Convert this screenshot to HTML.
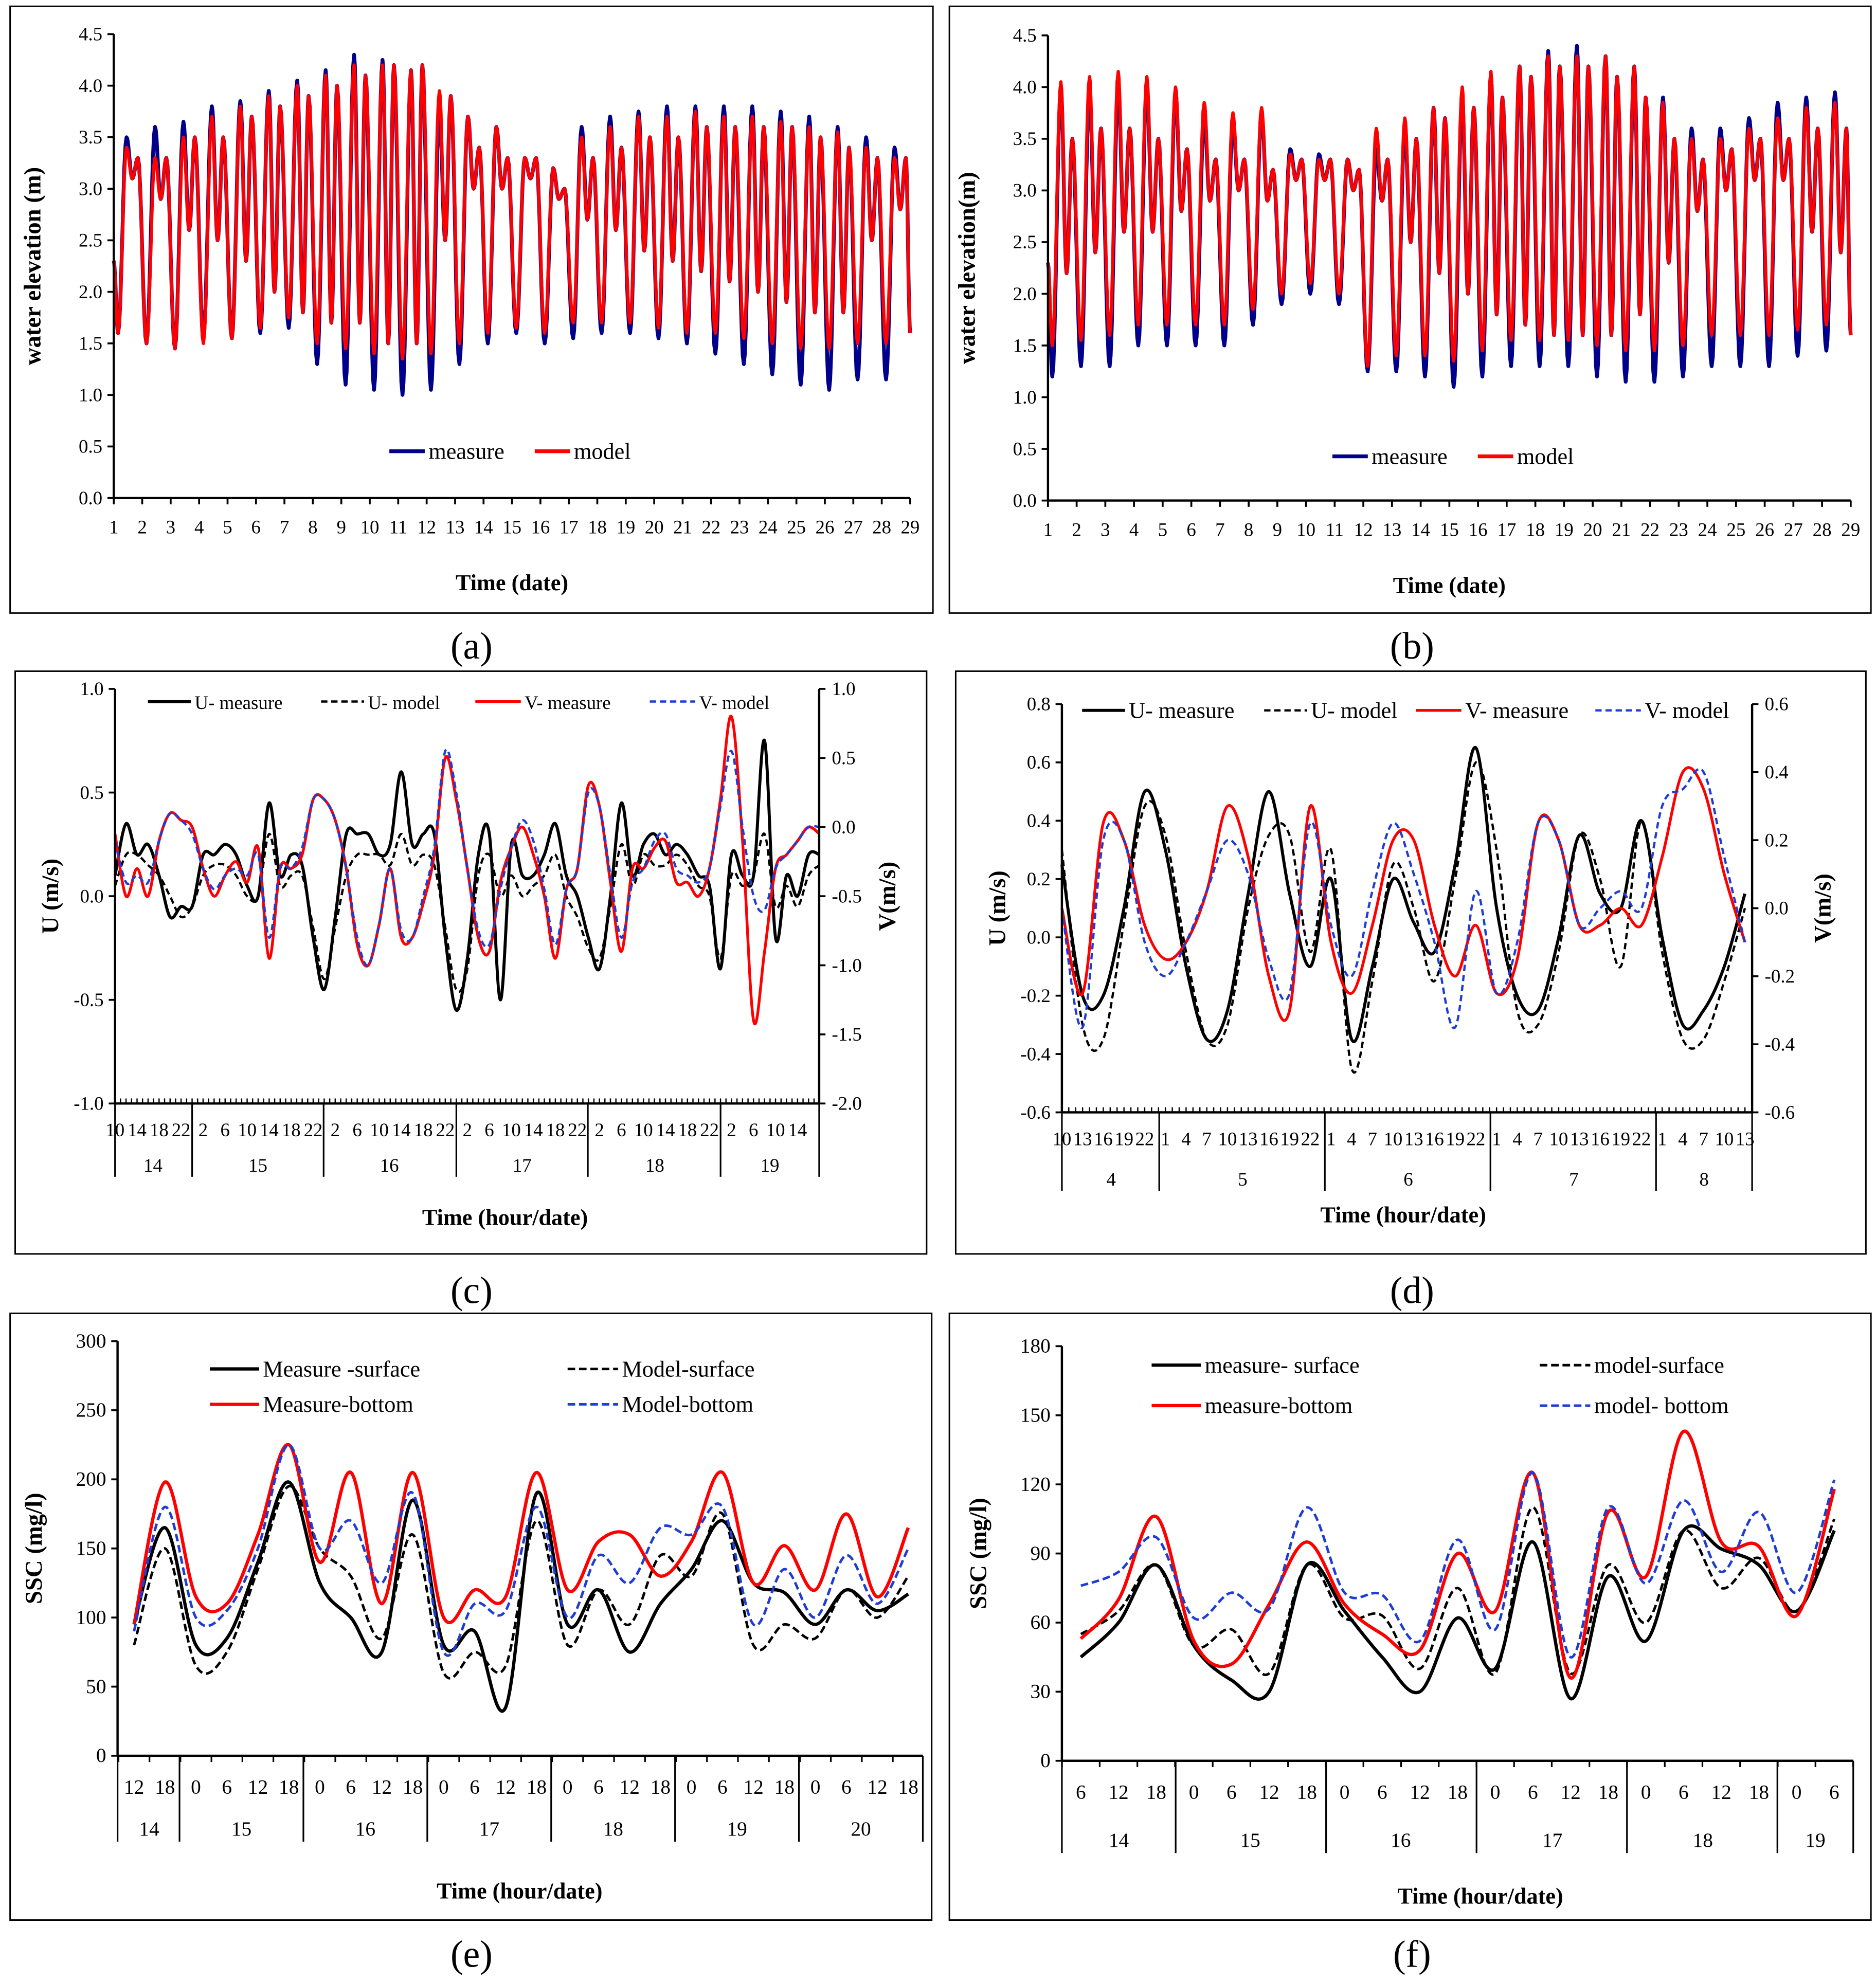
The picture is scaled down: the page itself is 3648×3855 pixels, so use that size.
<!DOCTYPE html>
<html><head><meta charset="utf-8"><style>
html,body{margin:0;padding:0;background:#fff}
svg{display:block}
text{font-family:"Liberation Serif",serif;fill:#000}
</style></head><body>
<svg id="root" xmlns="http://www.w3.org/2000/svg" width="3648" height="3855" viewBox="0 0 1484 1568" preserveAspectRatio="none"></svg>
<script>
// ---------- DATA ----------
const aHiMeasure=[3.5,3.6,3.65,3.8,3.85,3.95,4.05,4.15,4.3,4.25,4.15,3.75,3.7,3.6,3.3,3.2,3.6,3.7,3.75,3.8,3.8,3.8,3.8,3.75,3.7,3.6,3.5,3.4];
const aHiModel=[3.4,3.3,3.5,3.7,3.8,3.9,4.0,4.1,4.2,4.2,4.15,3.95,3.7,3.6,3.3,3.2,3.5,3.6,3.7,3.7,3.75,3.7,3.7,3.65,3.6,3.55,3.4,3.3];
const aLoMeasure=[1.6,1.5,1.45,1.55,1.55,1.6,1.65,1.3,1.1,1.05,1.0,1.05,1.3,1.5,1.6,1.5,1.55,1.6,1.6,1.55,1.5,1.4,1.3,1.2,1.1,1.05,1.15,1.15];
const aLoModel=[1.6,1.5,1.45,1.5,1.55,1.65,1.75,1.5,1.45,1.4,1.35,1.4,1.5,1.6,1.65,1.6,1.7,1.7,1.7,1.65,1.6,1.6,1.55,1.5,1.45,1.45,1.5,1.5];
const aSecHi=[3.3,3.3,3.5,3.5,3.7,3.8,3.9,4.0,4.1,4.2,4.2,3.9,3.4,3.3,3.3,3.0,3.3,3.4,3.5,3.5,3.6,3.6,3.6,3.6,3.5,3.4,3.3,3.3];
const aSecLo=[3.1,2.9,2.6,2.5,2.3,2.0,1.8,1.7,1.7,1.5,1.5,2.5,3.0,3.0,3.1,2.9,2.7,2.6,2.4,2.3,2.2,2.1,2.0,1.9,1.8,1.8,2.5,2.8];
const bHiMeasure=[4.0,3.95,4.0,4.0,3.95,3.7,3.65,3.75,3.4,3.35,3.3,3.4,3.6,3.8,3.9,4.1,4.2,4.35,4.4,4.3,4.2,3.9,3.6,3.6,3.7,3.85,3.9,3.95];
const bHiModel=[4.05,4.1,4.15,4.1,4.0,3.85,3.75,3.8,3.35,3.3,3.3,3.6,3.7,3.8,4.0,4.15,4.2,4.3,4.3,4.3,4.2,3.85,3.5,3.5,3.6,3.7,3.8,3.85];
const bLoMeasure=[1.2,1.3,1.3,1.5,1.5,1.5,1.5,1.7,1.9,2.0,1.9,1.25,1.25,1.2,1.1,1.2,1.3,1.3,1.3,1.2,1.15,1.15,1.2,1.3,1.3,1.3,1.4,1.45];
const bLoModel=[1.5,1.55,1.6,1.7,1.7,1.7,1.7,1.85,2.0,2.1,2.0,1.3,1.4,1.4,1.35,1.45,1.55,1.55,1.55,1.5,1.45,1.45,1.5,1.6,1.6,1.6,1.65,1.7];
const bSecHi=[3.5,3.6,3.6,3.5,3.4,3.3,3.3,3.2,3.3,3.3,3.2,3.3,3.5,3.7,3.8,3.9,4.1,4.2,4.2,4.1,3.9,3.5,3.3,3.4,3.5,3.5,3.6,3.6];
const bSecLo=[2.2,2.4,2.6,2.6,2.8,2.9,3.0,2.9,3.1,3.1,3.0,2.9,2.5,2.2,2.0,1.8,1.7,1.6,1.6,1.6,1.8,2.3,2.8,3.0,3.1,3.1,2.6,2.4];
const tideTicks=[0.0,0.5,1.0,1.5,2.0,2.5,3.0,3.5,4.0,4.5];
const cUMeasure=[0.1,0.35,0.2,0.25,0.1,-0.1,-0.05,-0.05,0.2,0.2,0.25,0.2,0.05,0.0,0.45,0.1,0.2,0.15,-0.2,-0.45,-0.1,0.3,0.3,0.3,0.2,0.25,0.6,0.25,0.3,0.3,-0.2,-0.55,-0.3,0.2,0.3,-0.5,0.25,0.1,0.1,0.2,0.35,0.1,0.0,-0.2,-0.35,0.0,0.45,0.1,0.25,0.3,0.2,0.25,0.2,0.1,0.05,-0.35,0.2,0.1,0.1,0.75,-0.2,0.1,0.0,0.2,0.2];
const cUModel=[0.05,0.2,0.2,0.15,0.1,0.0,-0.1,-0.05,0.1,0.15,0.15,0.1,0.0,0.0,0.3,0.05,0.1,0.1,-0.15,-0.4,-0.15,0.1,0.2,0.2,0.2,0.15,0.3,0.15,0.2,0.15,-0.15,-0.45,-0.35,0.1,0.2,0.0,0.1,0.0,0.05,0.1,0.2,0.0,-0.1,-0.25,-0.3,-0.05,0.25,0.05,0.2,0.15,0.15,0.2,0.15,0.05,0.0,-0.3,0.1,0.05,0.1,0.3,-0.05,0.05,-0.05,0.1,0.15];
const cVMeasure=[-0.05,-0.5,-0.3,-0.5,-0.1,0.1,0.05,0.0,-0.3,-0.5,-0.35,-0.25,-0.4,-0.15,-0.95,-0.3,-0.3,-0.2,0.2,0.2,0.05,-0.3,-0.85,-1.0,-0.7,-0.3,-0.8,-0.8,-0.55,-0.2,0.5,0.2,-0.3,-0.8,-0.9,-0.4,-0.15,0.0,-0.2,-0.5,-0.95,-0.45,-0.3,0.3,0.15,-0.4,-0.9,-0.3,-0.3,-0.15,-0.1,-0.4,-0.4,-0.5,-0.3,0.2,0.8,-0.1,-1.4,-0.9,-0.3,-0.2,-0.1,0.0,-0.05];
const cVModel=[-0.1,-0.4,-0.35,-0.4,-0.1,0.1,0.05,-0.05,-0.3,-0.45,-0.35,-0.3,-0.35,-0.2,-0.8,-0.3,-0.3,-0.15,0.2,0.2,0.05,-0.3,-0.8,-1.0,-0.7,-0.3,-0.75,-0.8,-0.5,-0.15,0.55,0.25,-0.3,-0.75,-0.85,-0.45,-0.15,0.05,-0.1,-0.45,-0.85,-0.45,-0.3,0.25,0.15,-0.35,-0.8,-0.4,-0.3,-0.1,-0.05,-0.3,-0.35,-0.4,-0.3,0.15,0.55,0.0,-0.5,-0.6,-0.3,-0.2,-0.1,0.0,0.0];
const cUTicks=[-1.0,-0.5,0.0,0.5,1.0];
const cVTicks=[-2.0,-1.5,-1.0,-0.5,0.0,0.5,1.0];
const dUMeasure=[0.25,-0.2,-0.2,0.1,0.5,0.3,-0.1,-0.35,-0.25,0.15,0.5,0.15,-0.1,0.2,-0.35,-0.1,0.2,0.05,-0.05,0.25,0.65,0.1,-0.2,-0.25,0.0,0.35,0.15,0.1,0.4,0.0,-0.3,-0.25,-0.1,0.15];
const dUModel=[0.3,-0.3,-0.35,0.05,0.45,0.35,-0.05,-0.35,-0.3,0.1,0.35,0.35,-0.05,0.3,-0.45,-0.15,0.25,0.1,-0.15,0.2,0.6,0.3,-0.25,-0.3,-0.05,0.35,0.2,-0.1,0.4,-0.05,-0.35,-0.35,-0.15,0.1];
const dVMeasure=[0.0,-0.25,0.25,0.2,-0.05,-0.15,-0.1,0.05,0.3,0.15,-0.2,-0.3,0.3,-0.1,-0.25,-0.05,0.2,0.2,-0.05,-0.2,-0.05,-0.25,-0.15,0.25,0.2,-0.05,-0.05,0.0,-0.05,0.15,0.4,0.35,0.1,-0.1];
const dVModel=[0.0,-0.35,0.2,0.2,-0.1,-0.2,-0.1,0.05,0.2,0.1,-0.15,-0.25,0.25,-0.05,-0.2,0.05,0.25,0.1,-0.1,-0.35,0.05,-0.25,-0.1,0.25,0.2,-0.05,0.0,0.05,0.0,0.3,0.35,0.4,0.15,-0.1];
const dUTicks=[-0.6,-0.4,-0.2,0.0,0.2,0.4,0.6,0.8];
const dVTicks=[-0.6,-0.4,-0.2,0.0,0.2,0.4,0.6];
const eMeasureSurface=[95,165,80,85,140,198,125,100,75,185,80,90,35,190,95,120,75,110,135,170,125,118,95,120,105,117];
const eModelSurface=[80,150,65,75,135,195,150,130,85,160,60,75,65,170,80,120,95,145,130,175,80,95,85,120,100,130];
const eMeasureBottom=[95,198,115,110,160,225,140,205,110,205,100,120,115,205,120,155,160,130,155,205,125,152,120,175,115,165];
const eModelBottom=[90,180,100,105,150,225,150,170,125,190,75,110,105,180,100,145,125,165,160,180,95,135,100,145,110,150];
const eTicks=[0,50,100,150,200,250,300];
const fMeasureSurface=[45,60,85,50,35,30,85,65,45,30,62,40,95,27,80,52,100,92,85,65,100];
const fModelSurface=[55,65,85,50,57,38,85,62,63,40,75,38,110,38,85,60,100,75,88,65,105];
const fMeasureBottom=[53,70,106,52,42,68,95,68,55,48,90,65,125,36,108,80,143,95,93,63,118];
const fModelBottom=[76,82,97,62,73,66,110,73,72,52,96,57,125,45,110,77,113,82,108,73,122];
const fTicks=[0,30,60,90,120,150,180];

// ---------- HELPERS ----------
const NS="http://www.w3.org/2000/svg";
const root=document.getElementById('root');
function el(tag,parent){const e=document.createElementNS(NS,tag);(parent||root).appendChild(e);return e;}
function line(p,x1,y1,x2,y2,w,c,dash){const l=el('line',p);l.setAttribute('x1',x1);l.setAttribute('y1',y1);l.setAttribute('x2',x2);l.setAttribute('y2',y2);l.setAttribute('stroke',c||'#000');l.setAttribute('stroke-width',w||1.5);if(dash)l.setAttribute('stroke-dasharray',dash);return l;}
function txt(p,x,y,s,size,anchor,bold,rot){const t=el('text',p);t.setAttribute('x',x);t.setAttribute('y',y);t.setAttribute('font-size',size);t.setAttribute('text-anchor',anchor||'start');if(bold)t.setAttribute('font-weight','bold');if(rot)t.setAttribute('transform','rotate(-90 '+x+' '+y+')');t.textContent=s;return t;}
function frame(x,y,w,h,name){const r=el('rect');r.setAttribute('x',x);r.setAttribute('y',y);r.setAttribute('width',w);r.setAttribute('height',h);r.setAttribute('fill','none');r.setAttribute('stroke','#000');r.setAttribute('stroke-width',1.2);

}
function smoothPath(pts){let d='M'+pts[0][0]+','+pts[0][1];for(let i=0;i<pts.length-1;i++){const p0=pts[i-1]||pts[i],p1=pts[i],p2=pts[i+1],p3=pts[i+2]||p2;const c1x=p1[0]+(p2[0]-p0[0])/6,c1y=p1[1]+(p2[1]-p0[1])/6,c2x=p2[0]-(p3[0]-p1[0])/6,c2y=p2[1]-(p3[1]-p1[1])/6;d+=' C'+c1x.toFixed(1)+','+c1y.toFixed(1)+' '+c2x.toFixed(1)+','+c2y.toFixed(1)+' '+p2[0].toFixed(1)+','+p2[1].toFixed(1);}return d;}
function pathEl(p,d,c,w,dash){const e=el('path',p);e.setAttribute('d',d);e.setAttribute('fill','none');e.setAttribute('stroke',c);e.setAttribute('stroke-width',w);e.setAttribute('stroke-linejoin','round');if(dash)e.setAttribute('stroke-dasharray',dash);return e;}
function yAxis(p,x,yScale,ticks,fmt,side,size){line(p,x,yScale(ticks[ticks.length-1]),x,yScale(ticks[0]),1.8);ticks.forEach(v=>{const y=yScale(v);if(side==='left'){line(p,x-5,y,x,y,1.5);txt(p,x-9,y+5,fmt(v),size,'end');}else{line(p,x,y,x+5,y,1.5);txt(p,x+10,y+5,fmt(v),size,'start');}});}
function legendItem(p,x1,x2,y,c,dash,label,size,w){line(p,x1,y,x2,y,w||2.5,c,dash);txt(p,x2+3,y+6,label,size,'start');}

// ---------- TIDE PANELS ----------
function tidePanel(name,x0,x1,yTop,yBot,hiM,hiP,loM,loP,secHi,secLo,title,legX,legY){
 const g=el('g');
 const xs=d=>x0+(d-1)*(x1-x0)/28;const ys=v=>yBot-(v/4.5)*(yBot-yTop);
 function series(hi,lo){const ex=[[1,2.3]];for(let i=0;i<hi.length;i++){const d=i+1;ex.push([d+0.15,lo[i]]);ex.push([d+0.45,hi[i]]);ex.push([d+0.65,secLo[i]]);ex.push([d+0.85,secHi[i]]);}ex.push([29,1.6]);
  let pts=[];for(let i=0;i<ex.length-1;i++){const a=ex[i],b=ex[i+1];for(let s=0;s<8;s++){const t=s/8;const v=a[1]+(b[1]-a[1])*(1-Math.cos(Math.PI*t))/2;pts.push([xs(a[0]+(b[0]-a[0])*t),ys(v)]);}}pts.push([xs(29),ys(1.6)]);
  return 'M'+pts.map(p=>p[0].toFixed(1)+','+p[1].toFixed(1)).join(' L');}
 const pm=pathEl(g,series(hiM,loM),'#00008b',3.0);
 
 
 const pp=pathEl(g,series(hiP,loP),'#ff0000',2.6);
 
 
 yAxis(g,x0,ys,tideTicks,v=>v.toFixed(1),'left',15);
 line(g,x0,yBot,x1,yBot,1.8);
 for(let d=1;d<=29;d++){line(g,xs(d),yBot,xs(d),yBot+5,1.5);txt(g,xs(d),yBot+28,String(d),15,'middle');}
 txt(g,x0-58,(yTop+yBot)/2,title,19,'middle',true,true);
 txt(g,(x0+x1)/2,yBot+73,'Time (date)',18,'middle',true);
 legendItem(g,legX,legX+28,legY,'#00008b',null,'measure',18,3);
 legendItem(g,legX+115,legX+143,legY,'#ff0000',null,'model',18,3);
}
frame(8,5,730,480,'panel-a-frame');frame(751,5,729,480,'panel-b-frame');
tidePanel('panel-a',90,720,27,394,aHiMeasure,aHiModel,aLoMeasure,aLoModel,aSecHi,aSecLo,'water elevation (m)',308,357);
tidePanel('panel-b',829,1464,28,396,bHiMeasure,bHiModel,bLoMeasure,bLoModel,bSecHi,bSecLo,'water elevation(m)',1054,361);

// ---------- VELOCITY PANELS ----------
function velPanel(name,cfg){
 const g=el('g');
 const yu=v=>cfg.yB-(v-cfg.uMin)/(cfg.uMax-cfg.uMin)*(cfg.yB-cfg.yT);
 const yv=v=>cfg.yB-(v-cfg.vMin)/(cfg.vMax-cfg.vMin)*(cfg.yB-cfg.yT);
 const xh=h=>cfg.x0+h*cfg.pxh;
 const mk=(arr,sc)=>smoothPath(arr.map((v,i)=>[xh(i*cfg.step),sc(v)]));
 const s1=pathEl(g,mk(cfg.U1,yu),'#000',2.4);
 
 
 const s2=pathEl(g,mk(cfg.U2,yu),'#000',1.8,'5,3');
 
 
 const s3=pathEl(g,mk(cfg.V1,yv),'#ff0000',2.2);
 
 
 const s4=pathEl(g,mk(cfg.V2,yv),'#1e3cd6',1.8,'5,3');
 
 
 yAxis(g,cfg.x0,yu,cfg.uTicks,v=>v.toFixed(1),'left',cfg.fs);
 yAxis(g,cfg.x1,yv,cfg.vTicks,v=>v.toFixed(1),'right',cfg.fs);
 line(g,cfg.x0,cfg.yB,cfg.x1,cfg.yB,1.8);
 const total=(cfg.x1-cfg.x0)/cfg.pxh;
 for(let h=0;h<=total;h++)line(g,xh(h),cfg.yB,xh(h),cfg.yB-4,1);
 cfg.seps.forEach(x=>line(g,x,cfg.yB,x,cfg.yB+cfg.sepLen,1.3));
 cfg.hourLabels.forEach((lab,i)=>txt(g,xh(cfg.hourPos[i]),cfg.yB+26,lab,cfg.fs,'middle'));
 cfg.dayLabels.forEach((lab,i)=>txt(g,cfg.dayPos[i],cfg.yB+cfg.dayOff,lab,cfg.fs,'middle'));
 txt(g,cfg.x0-45,(cfg.yT+cfg.yB)/2,'U (m/s)',19,'middle',true,true);
 txt(g,cfg.x1+cfg.vtOff,(cfg.yT+cfg.yB)/2,'V(m/s)',19,'middle',true,true);
 txt(g,(cfg.x0+cfg.x1)/2+cfg.titleDx,cfg.titleY,'Time (hour/date)',18,'middle',true);
 const L=cfg.leg;
 legendItem(g,L[0],L[0]+34,cfg.legY,'#000',null,'U- measure',cfg.lfs,2.4);
 legendItem(g,L[1],L[1]+34,cfg.legY,'#000','5,3','U- model',cfg.lfs,1.8);
 legendItem(g,L[2],L[2]+36,cfg.legY,'#ff0000',null,'V- measure',cfg.lfs,2.2);
 legendItem(g,L[3],L[3]+36,cfg.legY,'#1e3cd6','5,3','V- model',cfg.lfs,1.8);
}
frame(12,531,721,461,'panel-c-frame');frame(756,531,720,461,'panel-d-frame');
const cHourLabels=[],cHourPos=[];
[[14,[10,14,18,22]],[15,[2,6,10,14,18,22]],[16,[2,6,10,14,18,22]],[17,[2,6,10,14,18,22]],[18,[2,6,10,14,18,22]],[19,[2,6,10,14]]].forEach(([d,hs])=>hs.forEach(h=>{cHourLabels.push(String(h));cHourPos.push((d-14)*24+h-10);}));
velPanel('panel-c',{x0:91,x1:648,yT:545,yB:873,pxh:4.354,step:2,U1:cUMeasure,U2:cUModel,V1:cVMeasure,V2:cVModel,uMin:-1,uMax:1,vMin:-2,vMax:1,uTicks:cUTicks,vTicks:cVTicks,fs:15,seps:[91,152,256,361,465,570,648],sepLen:58,hourLabels:cHourLabels,hourPos:cHourPos,dayLabels:['14','15','16','17','18','19'],dayPos:[121,204,308,413,518,609],dayOff:54,vtOff:60,titleY:969,titleDx:30,leg:[117,254,376,514],legY:555,lfs:15});
const dHourLabels=[],dHourPos=[];
[[4,[10,13,16,19,22]],[5,[1,4,7,10,13,16,19,22]],[6,[1,4,7,10,13,16,19,22]],[7,[1,4,7,10,13,16,19,22]],[8,[1,4,7,10,13]]].forEach(([d,hs])=>hs.forEach(h=>{dHourLabels.push(String(h));dHourPos.push((d-4)*24+h-10);}));
velPanel('panel-d',{x0:840,x1:1386,yT:557,yB:880,pxh:5.458,step:3,U1:dUMeasure,U2:dUModel,V1:dVMeasure,V2:dVModel,uMin:-0.6,uMax:0.8,vMin:-0.6,vMax:0.6,uTicks:dUTicks,vTicks:dVTicks,fs:15,seps:[840,917,1048,1179,1310,1386],sepLen:62,hourLabels:dHourLabels,hourPos:dHourPos,dayLabels:['4','5','6','7','8'],dayPos:[879,983,1114,1245,1348],dayOff:58,vtOff:62,titleY:967,titleDx:-3,leg:[856,1000,1120,1262],legY:562,lfs:18});

// ---------- SSC PANELS ----------
function sscPanel(name,cfg){
 const g=el('g');
 const ys=v=>cfg.yB-v/cfg.max*(cfg.yB-cfg.yT);
 const xi=i=>cfg.xFirst+i*cfg.dx;
 const mk=arr=>smoothPath(arr.map((v,i)=>[xi(i),ys(v)]));
 const a=pathEl(g,mk(cfg.ms),'#000',2.6);
 
 
 const b=pathEl(g,mk(cfg.mds),'#000',2,'6,3');
 
 
 const c=pathEl(g,mk(cfg.mb),'#ff0000',2.6);
 
 
 const d=pathEl(g,mk(cfg.mdb),'#1e3cd6',2,'6,3');
 
 
 yAxis(g,cfg.x0,ys,cfg.ticks,v=>String(v),'left',16);
 line(g,cfg.x0,cfg.yB,cfg.x1,cfg.yB,1.8);
 for(let i=0;i<=cfg.hours.length;i++){const x=cfg.xFirst+(i-0.5)*cfg.dx;if(x>cfg.x0&&x<cfg.x1)line(g,x,cfg.yB,x,cfg.yB+5,1.3);}
 cfg.seps.forEach(x=>line(g,x,cfg.yB,x,cfg.yB+cfg.sepLen,1.3));
 cfg.hours.forEach((h,i)=>txt(g,xi(i),cfg.yB+30,h,16,'middle'));
 cfg.days.forEach((dd,i)=>txt(g,cfg.dayPos[i],cfg.yB+cfg.dayOff,dd,16,'middle'));
 txt(g,cfg.x0-60,(cfg.yT+cfg.yB)/2,'SSC (mg/l)',19,'middle',true,true);
 txt(g,cfg.titleX,cfg.titleY,'Time (hour/date)',18,'middle',true);
 const L=cfg.leg;
 legendItem(g,L[0],L[0]+39,L[2],'#000',null,cfg.names[0],18,2.6);
 legendItem(g,L[1],L[1]+40,L[2],'#000','6,3',cfg.names[1],18,2);
 legendItem(g,L[0],L[0]+39,L[3],'#ff0000',null,cfg.names[2],18,2.6);
 legendItem(g,L[1],L[1]+40,L[3],'#1e3cd6','6,3',cfg.names[3],18,2);
}
frame(8,1039,729,480,'panel-e-frame');frame(751,1039,729,480,'panel-f-frame');
sscPanel('panel-e',{x0:93,x1:730,yT:1061,yB:1389,max:300,ticks:eTicks,xFirst:106,dx:24.5,ms:eMeasureSurface,mds:eModelSurface,mb:eMeasureBottom,mdb:eModelBottom,
 hours:['12','18','0','6','12','18','0','6','12','18','0','6','12','18','0','6','12','18','0','6','12','18','0','6','12','18'],
 seps:[93,142,240,338,436,534,632,730],sepLen:68,days:['14','15','16','17','18','19','20'],dayPos:[118,191,289,387,485,583,681],dayOff:63,titleX:411,titleY:1502,
 leg:[166,449,1083,1111],names:['Measure -surface','Model-surface','Measure-bottom','Model-bottom']});
sscPanel('panel-f',{x0:840,x1:1466,yT:1065,yB:1393,max:180,ticks:fTicks,xFirst:855,dx:29.8,ms:fMeasureSurface,mds:fModelSurface,mb:fMeasureBottom,mdb:fModelBottom,
 hours:['6','12','18','0','6','12','18','0','6','12','18','0','6','12','18','0','6','12','18','0','6'],
 seps:[840,930,1049,1168,1287,1406,1466],sepLen:73,days:['14','15','16','17','18','19'],dayPos:[885,989,1108,1228,1347,1436],dayOff:68,titleX:1171,titleY:1506,
 leg:[911,1218,1080,1112],names:['measure- surface','model-surface','measure-bottom','model- bottom']});

[['(a)',373,521],['(b)',1117,521],['(c)',373,1031],['(d)',1117,1031],['(e)',373,1556],['(f)',1117,1556]].forEach(([s,x,y])=>{const t=txt(root,x,y,s,30,'middle');

});
</script>
</body></html>
